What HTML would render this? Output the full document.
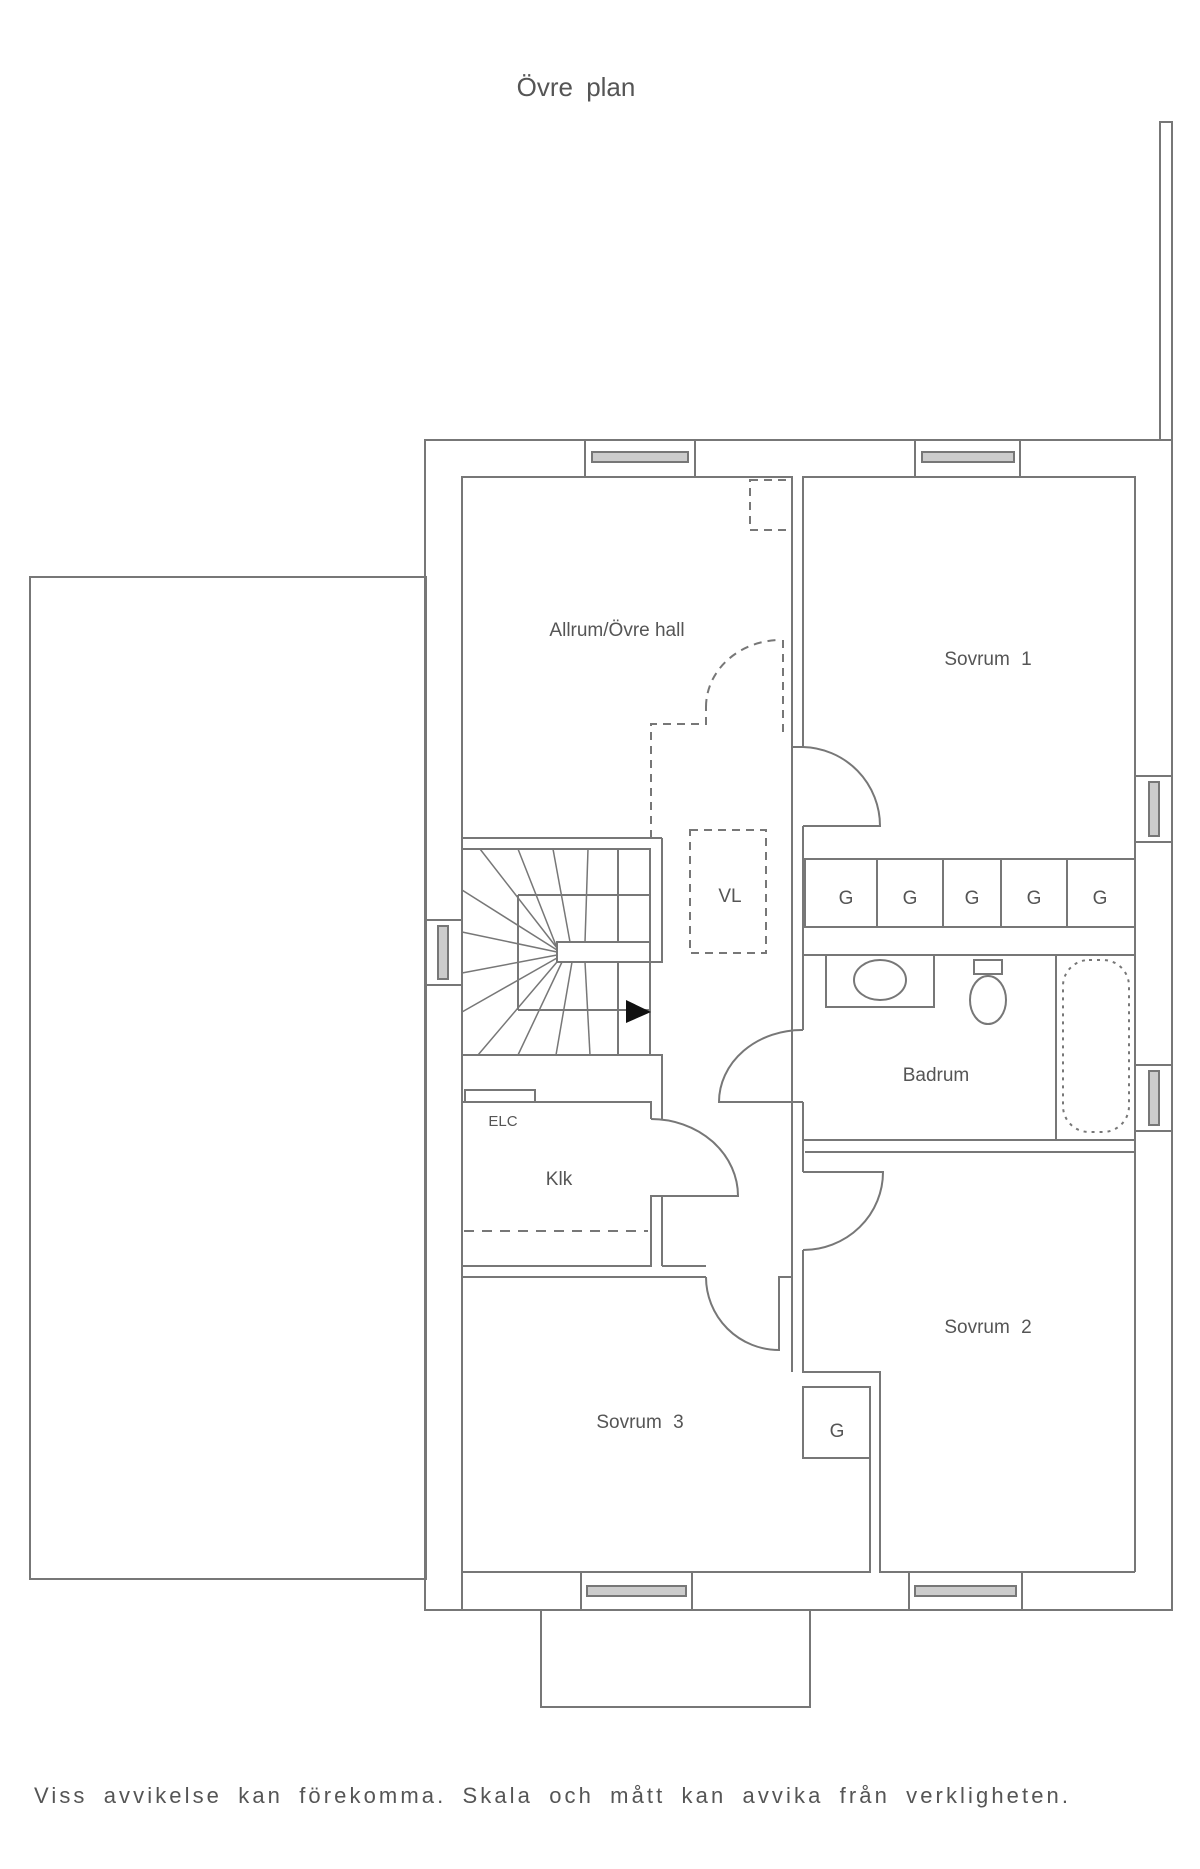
<!DOCTYPE html>
<html><head><meta charset="utf-8"><style>
html,body{margin:0;padding:0;background:#fff}
svg{display:block}
text{font-family:"Liberation Sans",sans-serif;fill:#555}
</style></head><body>
<svg width="1200" height="1869" viewBox="0 0 1200 1869" xmlns="http://www.w3.org/2000/svg">
<g fill="none" stroke="#777" stroke-width="2">
<!-- chimney/post -->
<rect x="1160" y="122" width="12" height="318"/>
<!-- left big rect -->
<rect x="30" y="577" width="396" height="1002"/>
<!-- outer walls -->
<rect x="425" y="440" width="747" height="1170"/>
<!-- balcony -->
<polyline points="541,1610 541,1707 810,1707 810,1610"/>
<!-- windows top -->
<rect x="585" y="440" width="110" height="37"/>
<rect x="592" y="452" width="96" height="10" fill="#ccc"/>
<rect x="915" y="440" width="105" height="37"/>
<rect x="922" y="452" width="92" height="10" fill="#ccc"/>
<!-- windows bottom -->
<rect x="581" y="1572" width="111" height="38"/>
<rect x="587" y="1586" width="99" height="10" fill="#ccc"/>
<rect x="909" y="1572" width="113" height="38"/>
<rect x="915" y="1586" width="101" height="10" fill="#ccc"/>
<!-- side windows -->
<rect x="1135" y="776" width="37" height="66"/>
<rect x="1149" y="782" width="10" height="54" fill="#ccc"/>
<rect x="1135" y="1065" width="37" height="66"/>
<rect x="1149" y="1071" width="10" height="54" fill="#ccc"/>
<rect x="425" y="920" width="37" height="65"/>
<rect x="438" y="926" width="10" height="53" fill="#ccc"/>

<!-- Allrum -->
<polyline points="462,1610 462,477 792,477 792,747 803,747 803,477 1135,477 1135,1572"/>
<!-- Sovrum1 door -->
<path d="M803,747 A79,79 0 0 1 880,826 L803,826"/>
<line x1="792" y1="747" x2="792" y2="1372"/>
<line x1="803" y1="826" x2="803" y2="955"/>
<!-- wardrobes -->
<rect x="805" y="859" width="330" height="68"/>
<line x1="877" y1="859" x2="877" y2="927"/>
<line x1="943" y1="859" x2="943" y2="927"/>
<line x1="1001" y1="859" x2="1001" y2="927"/>
<line x1="1067" y1="859" x2="1067" y2="927"/>
<!-- bathroom -->
<polyline points="803,1030 803,955 1135,955"/>
<polyline points="803,1102 803,1140 1135,1140"/>
<line x1="1056" y1="955" x2="1056" y2="1140"/>
<path d="M803,1030 A83,72 0 0 0 719,1102 L803,1102"/>
<rect x="826" y="955" width="108" height="52"/>
<ellipse cx="880" cy="980" rx="26" ry="20"/>
<ellipse cx="988" cy="1000" rx="18" ry="24"/>
<rect x="974" y="960" width="28" height="14"/>
<rect x="1063" y="960" width="66" height="172" rx="26" stroke-dasharray="3,5"/>
<!-- Sovrum2 -->
<polyline points="805,1152 1135,1152"/>
<polyline points="803,1140 803,1172"/>
<path d="M803,1172 L883,1172 A80,78 0 0 1 803,1250"/>
<polyline points="803,1250 803,1372 880,1372 880,1572 1135,1572"/>
<!-- G closet -->
<rect x="803" y="1387" width="67" height="71"/>
<!-- Sovrum3 -->
<polyline points="462,1277 706,1277"/>
<path d="M706,1277 A73,73 0 0 0 779,1350 L779,1277 L792,1277"/>
<polyline points="870,1387 870,1572 462,1572"/>
<line x1="792" y1="1372" x2="792" y2="1277"/>
<!-- Klk -->
<rect x="465" y="1090" width="70" height="12"/>
<polyline points="462,1102 651,1102 651,1119"/>
<path d="M651,1119 A87,77 0 0 1 738,1196 L651,1196 L651,1266 L462,1266"/>
<line x1="662" y1="1196" x2="662" y2="1266"/>
<polyline points="662,1266 706,1266"/>
<line x1="464" y1="1231" x2="648" y2="1231" stroke-dasharray="10,8"/>
<!-- hall wall below stairs -->
<polyline points="462,1055 662,1055 662,1119"/>
<line x1="662" y1="1119" x2="662" y2="1119"/>
<!-- stairs -->
<line x1="462" y1="838" x2="662" y2="838"/>
<rect x="462" y="849" width="188" height="206"/>
<polyline points="662,838 662,962 557,962 557,942 650,942"/>
<line x1="518" y1="895" x2="518" y2="1010"/>
<line x1="518" y1="895" x2="650" y2="895"/>
<line x1="518" y1="1010" x2="650" y2="1010"/>
<line x1="618" y1="849" x2="618" y2="942"/>
<line x1="618" y1="962" x2="618" y2="1055"/>
<g stroke-width="1.5">
<line x1="557" y1="948" x2="480" y2="849"/>
<line x1="557" y1="948" x2="518" y2="849"/>
<line x1="570" y1="942" x2="553" y2="849"/>
<line x1="585" y1="942" x2="588" y2="849"/>
<line x1="557" y1="950" x2="462" y2="890"/>
<line x1="557" y1="952" x2="462" y2="932"/>
<line x1="557" y1="955" x2="462" y2="973"/>
<line x1="557" y1="958" x2="462" y2="1012"/>
<line x1="557" y1="962" x2="478" y2="1055"/>
<line x1="562" y1="962" x2="518" y2="1055"/>
<line x1="572" y1="962" x2="556" y2="1055"/>
<line x1="585" y1="962" x2="590" y2="1055"/>
</g>
<!-- dashed -->
<g stroke-dasharray="8,6">
<rect x="690" y="830" width="76" height="123"/>
<polyline points="651,838 651,724 706,724 706,707"/>
<path d="M706,707 A75,67 0 0 1 780,640"/>
<line x1="783" y1="640" x2="783" y2="737"/>
<rect x="750" y="480" width="42" height="50"/>
</g>
</g>
<polygon points="626,1000 651,1012 626,1023" fill="#111"/>
<g font-size="19" text-anchor="middle">
<text x="617" y="636">Allrum/Övre hall</text>
<text x="988" y="665" word-spacing="6">Sovrum 1</text>
<text x="730" y="902">VL</text>
<text x="846" y="904">G</text><text x="910" y="904">G</text><text x="972" y="904">G</text><text x="1034" y="904">G</text><text x="1100" y="904">G</text>
<text x="936" y="1081">Badrum</text>
<text x="559" y="1185">Klk</text>
<text x="503" y="1126" font-size="15">ELC</text>
<text x="988" y="1333" word-spacing="6">Sovrum 2</text>
<text x="640" y="1428" word-spacing="6">Sovrum 3</text>
<text x="837" y="1437">G</text>
</g>
<text x="576" y="96" font-size="26" text-anchor="middle" word-spacing="6">Övre plan</text>
<text x="34" y="1803" font-size="22" word-spacing="7" textLength="1034">Viss avvikelse kan förekomma. Skala och mått kan avvika från verkligheten.</text>
</svg>
</body></html>
